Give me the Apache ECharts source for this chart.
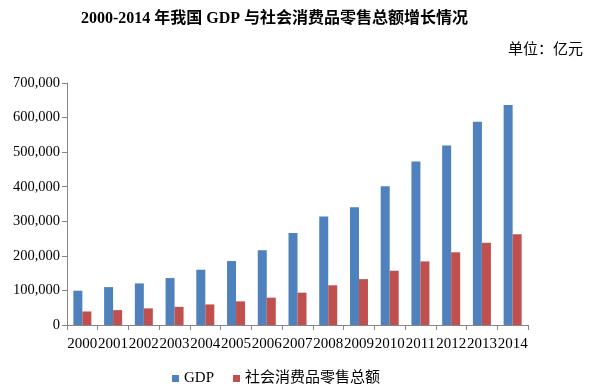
<!DOCTYPE html>
<html><head><meta charset="utf-8">
<script src="https://cdn.jsdelivr.net/npm/echarts@6/dist/echarts.min.js"></script>
<style>html,body{margin:0;padding:0;background:#fff}#c{width:590px;height:388px}</style>
</head><body><div id="c"></div>
<script>
const years = ['2000','2001','2002','2003','2004','2005','2006','2007','2008','2009','2010','2011','2012','2013','2014'];
const gdp = [99215,109655,120333,135823,159878,184937,216314,265810,314045,340903,401513,473104,519470,588019,636463];
const retail = [39106,43055,48136,52516,59501,68353,79145,93572,114830,132678,156998,183919,210307,237810,262394];
const yTicks = [0,100000,200000,300000,400000,500000,600000,700000];
const font = '"Liberation Serif","Times New Roman","Noto Sans CJK SC",serif';
const chart = echarts.init(document.getElementById('c'));
chart.setOption({
  animation:false,
  textStyle:{fontFamily:font},
  title:[{text:'2000-2014 年我国 GDP 与社会消费品零售总额增长情况',left:76,top:6,
    textStyle:{fontFamily:font,fontSize:16,fontWeight:'bold',color:'#000'}},
    {text:'单位：亿元',right:2,top:38,textStyle:{fontFamily:font,fontSize:15,fontWeight:'normal',color:'#000'}}],
  grid:{left:67,right:62,top:83,bottom:63},
  legend:{top:366,left:167,itemWidth:7,itemHeight:7,itemGap:19,icon:'rect',
    textStyle:{fontFamily:font,fontSize:15,color:'#000',padding:[0,0,0,0]},data:['GDP','社会消费品零售总额']},
  xAxis:{type:'category',data:years,
    axisLine:{lineStyle:{color:'#868686'}},
    axisTick:{show:true,length:5,lineStyle:{color:'#868686'}},
    axisLabel:{interval:0,color:'#000',fontFamily:font,fontSize:15,margin:12}},
  yAxis:{type:'value',min:yTicks[0],max:yTicks[yTicks.length-1],interval:100000,
    axisLine:{show:true,lineStyle:{color:'#868686'}},
    axisTick:{show:true,length:5,lineStyle:{color:'#868686'}},
    splitLine:{show:false},
    axisLabel:{color:'#000',fontFamily:font,fontSize:14.5,margin:7,
      formatter:v=>v.toLocaleString('en-US')}},
  series:[
    {name:'GDP',type:'bar',data:gdp,barWidth:9,barGap:'0%',itemStyle:{color:'#4F81BD'}},
    {name:'社会消费品零售总额',type:'bar',data:retail,barWidth:9,itemStyle:{color:'#C0504D'}}
  ]
});
</script></body></html>
